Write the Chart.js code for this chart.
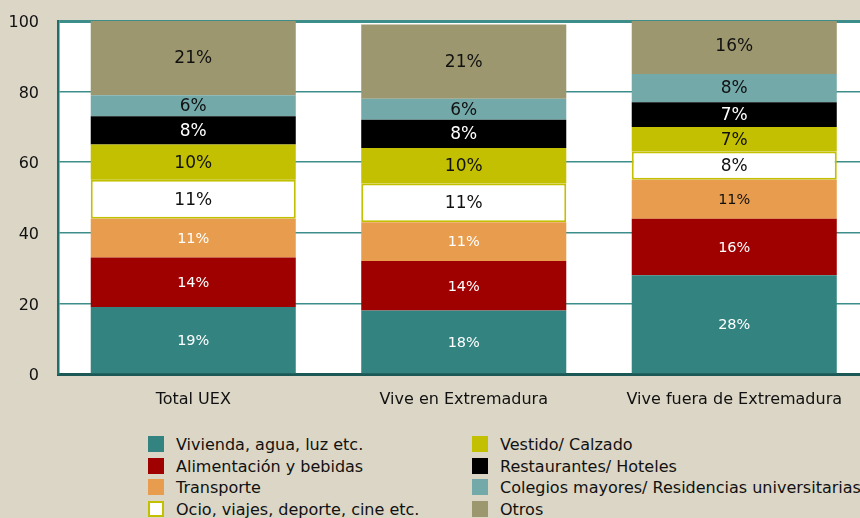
<!DOCTYPE html>
<html lang="es">
<head>
<meta charset="utf-8">
<title>Distribución del gasto</title>
<script src="https://cdn.jsdelivr.net/npm/chart.js@4.4.1/dist/chart.umd.min.js"></script>
<style>
  html, body { margin: 0; padding: 0; background: #dbd6c5; overflow: hidden; }
  body { width: 860px; height: 518px; position: relative; font-family: "DejaVu Sans", sans-serif; }
  #wrap { position: absolute; left: 0; top: 0; width: 880px; height: 420px; }
  .leyenda { position: absolute; top: 434px; font-size: 16px; color: #111; }
  .leyenda div { height: 21.5px; line-height: 21.5px; white-space: nowrap; }
  .leyenda span.box { display: inline-block; width: 16px; height: 16px; box-sizing: border-box;
                      vertical-align: -2px; margin-right: 12px; }
</style>
</head>
<body>
<div id="wrap"><canvas id="gastosChart"></canvas></div>
<div class="leyenda" id="ley1" style="left:148px"></div>
<div class="leyenda" id="ley2" style="left:472px"></div>
<script>
const categorias = ['Total UEX', 'Vive en Extremadura', 'Vive fuera de Extremadura'];

// porcentaje del gasto por concepto
const vivienda = [19, 18, 28];
const alimentacion = [14, 14, 16];
const transporte = [11, 11, 11];
const ocio = [11, 11, 8];
const vestido = [10, 10, 7];
const restaurantes = [8, 8, 7];
const colegios = [6, 6, 8];
const otros = [21, 21, 16];

const ticksY = [0, 20, 40, 60, 80, 100];

const series = [
    { label: 'Vivienda, agua, luz etc.', data: vivienda, color: '#338481', texto: ['#fff', '#fff', '#fff'], chica: true },
    { label: 'Alimentación y bebidas', data: alimentacion, color: '#9f0000', texto: ['#fff', '#fff', '#fff'], chica: true },
    { label: 'Transporte', data: transporte, color: '#e89d4e', texto: ['#fff', '#fff', '#111'], chica: true },
    { label: 'Ocio, viajes, deporte, cine etc.', data: ocio, color: '#ffffff', borde: '#c2c000', texto: ['#111', '#111', '#111'] },
    { label: 'Vestido/ Calzado', data: vestido, color: '#c2c000', texto: ['#111', '#111', '#111'] },
    { label: 'Restaurantes/ Hoteles', data: restaurantes, color: '#000000', texto: ['#fff', '#fff', '#fff'] },
    { label: 'Colegios mayores/ Residencias universitarias', data: colegios, color: '#73aaa9', texto: ['#111', '#111', '#111'] },
    { label: 'Otros', data: otros, color: '#9c976e', texto: ['#111', '#111', '#111'] }
];

const datasets = series.map(s => ({
    label: s.label,
    data: s.data,
    backgroundColor: s.color,
    borderColor: s.borde || s.color,
    borderWidth: s.borde ? 2 : 0,
    borderSkipped: false,
    barPercentage: 0.758,
    categoryPercentage: 1
}));

// fondo blanco del área de trazado
const fondoBlanco = {
    id: 'fondoBlanco',
    beforeDraw(chart) {
        const { ctx, chartArea: a } = chart;
        ctx.save();
        ctx.fillStyle = '#ffffff';
        ctx.fillRect(a.left, a.top, a.right - a.left, a.bottom - a.top);
        ctx.restore();
    }
};

// etiquetas de porcentaje dentro de cada tramo
const etiquetas = {
    id: 'etiquetas',
    afterDatasetsDraw(chart) {
        const ctx = chart.ctx;
        ctx.save();
        ctx.textAlign = 'center';
        ctx.textBaseline = 'middle';
        series.forEach((s, i) => {
            const meta = chart.getDatasetMeta(i);
            meta.data.forEach((bar, j) => {
                const v = s.data[j];
                ctx.font = (s.chica ? '14.5px' : '17px') + ' "DejaVu Sans", sans-serif';
                ctx.fillStyle = s.texto[j];
                ctx.fillText(v + '%', bar.x, (bar.y + bar.base) / 2 + 1);
            });
        });
        ctx.restore();
    }
};

const ctx = document.getElementById('gastosChart').getContext('2d');

new Chart(ctx, {
    type: 'bar',
    data: { labels: categorias, datasets: datasets },
    options: {
        responsive: true,
        maintainAspectRatio: false,
        animation: false,
        layout: { padding: { top: 21, left: 10, right: 10.5, bottom: 10 } },
        plugins: {
            legend: { display: false },
            tooltip: { enabled: false }
        },
        scales: {
            x: {
                stacked: true,
                grid: { display: false, drawTicks: false },
                border: { color: '#1b5856', width: 3 },
                ticks: {
                    color: '#111',
                    padding: 16,
                    font: { family: '"DejaVu Sans", sans-serif', size: 16 }
                },
                afterFit: s => { s.height = 36; s.paddingLeft = 0; s.paddingRight = 0; }
            },
            y: {
                stacked: true,
                min: 0,
                max: 100,
                afterBuildTicks: axis => { axis.ticks = ticksY.map(v => ({ value: v })); },
                grid: {
                    drawTicks: false,
                    color: '#3d8e8a',
                    lineWidth: c => (c.tick.value === 100 ? 3 : 1.5)
                },
                border: { color: '#1f6f6c', width: 2.5 },
                ticks: {
                    color: '#111',
                    padding: 19,
                    labelOffset: 2,
                    font: { family: '"DejaVu Sans", sans-serif', size: 16 }
                },
                afterFit: s => { s.width = 48; s.paddingTop = 0; s.paddingBottom = 0; }
            }
        }
    },
    plugins: [fondoBlanco, etiquetas]
});

// leyenda en dos columnas
series.forEach((s, i) => {
    const fila = document.createElement('div');
    const caja = document.createElement('span');
    caja.className = 'box';
    caja.style.background = s.color;
    if (s.borde) caja.style.border = '2px solid ' + s.borde;
    fila.appendChild(caja);
    fila.appendChild(document.createTextNode(s.label));
    document.getElementById(i < 4 ? 'ley1' : 'ley2').appendChild(fila);
});
</script>
</body>
</html>
